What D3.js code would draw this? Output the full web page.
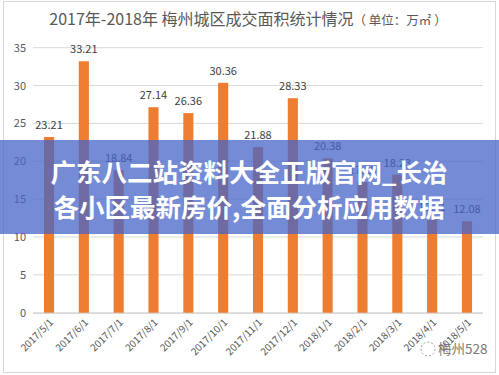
<!DOCTYPE html>
<html><head><meta charset="utf-8">
<script src="https://cdn.jsdelivr.net/npm/d3@7"></script>
<style>body{margin:0;background:#fff}svg{display:block}</style>
</head><body>
<script>
const categories = ["2017/5/1","2017/6/1","2017/7/1","2017/8/1","2017/9/1","2017/10/1","2017/11/1","2017/12/1","2018/1/1","2018/2/1","2018/3/1","2018/4/1","2018/5/1"];
const values = [23.21,33.21,18.84,27.14,26.36,30.36,21.88,28.33,20.38,17.26,18.23,12.31,12.08];
const yTicks = [0,5,10,15,20,25,30,35];
const titleMain = "2017年-2018年 梅州城区成交面积统计情况";
const titleUnit = "（ 单位：万㎡ ）";
const bannerLines = ["广东八二站资料大全正版官网_长治","各小区最新房价,全面分析应用数据"];

const W = 499, H = 375;
const svg = d3.select("body").append("svg").attr("width", W).attr("height", H);
const font = "'Noto Sans CJK SC','Noto Sans',sans-serif";

svg.append("rect").attr("x",3.5).attr("y",1.5).attr("width",492).attr("height",371)
  .attr("fill","#fff").attr("stroke","#d6d6d6");

const x = d3.scaleBand().domain(categories).range([31.6, 484.4]).paddingInner(0.71).paddingOuter(0.355);
const y = d3.scaleLinear().domain([0,35]).range([312.7, 47.7]);

// gridlines
svg.append("g").selectAll("line").data(yTicks).join("line")
  .attr("x1",33).attr("x2",483).attr("y1",d=>y(d)).attr("y2",d=>y(d))
  .attr("stroke","#d9d9d9").attr("stroke-width",1);

// y axis labels
const yAxis = d3.axisLeft(y).tickValues(yTicks).tickSize(0).tickPadding(0);
const yg = svg.append("g").attr("transform","translate(26,0)").call(yAxis);
yg.select(".domain").remove();
yg.selectAll("text").attr("font-family",font).attr("font-size",11).attr("fill","#595959");

// bars
svg.append("g").selectAll("rect").data(values).join("rect")
  .attr("x",(d,i)=>x(categories[i])).attr("width",x.bandwidth())
  .attr("y",d=>y(d)).attr("height",d=>y(0)-y(d)).attr("fill","#ED7D31");

// data labels
svg.append("g").selectAll("text").data(values).join("text")
  .attr("x",(d,i)=>x(categories[i])+x.bandwidth()/2).attr("y",d=>y(d)-8)
  .attr("text-anchor","middle").attr("font-family",font).attr("font-size",11)
  .attr("fill","#404040").text(d=>d.toFixed(2));

// x axis labels
const xAxis = d3.axisBottom(x).tickSize(0).tickPadding(0);
const xg = svg.append("g").attr("transform","translate(0,313)").call(xAxis);
xg.select(".domain").attr("stroke","#d9d9d9").attr("d","M33,0.5H483");
xg.selectAll("text").attr("font-family",font).attr("font-size",10).attr("fill","#595959")
  .attr("text-anchor","end").attr("dy",0)
  .attr("transform","translate(5,10) rotate(-45)");

// title
const t = svg.append("text").attr("x",248).attr("y",25).attr("text-anchor","middle")
  .attr("font-family",font).attr("fill","#595959");
t.append("tspan").attr("font-size",16).text(titleMain);
t.append("tspan").attr("font-size",12.5).text(titleUnit);

// watermark
const wm = svg.append("g").attr("transform","translate(428,354)");
wm.append("circle").attr("cx",0).attr("cy",-5).attr("r",7).attr("fill","none")
  .attr("stroke","#9a9a9a").attr("stroke-dasharray","2,2");
wm.append("text").attr("x",10).attr("y",0).attr("font-family",font).attr("font-size",13.5)
  .attr("fill","#7a7a7a").text("梅州528");

// banner overlay
svg.append("rect").attr("x",0).attr("y",140).attr("width",W).attr("height",94)
  .attr("fill","rgba(70,100,200,0.75)");
svg.append("g").selectAll("text").data(bannerLines).join("text")
  .attr("x",249).attr("y",(d,i)=>182+i*35).attr("text-anchor","middle")
  .attr("font-family",font).attr("font-weight","bold").attr("font-size",25.5)
  .attr("fill","#fff").text(d=>d);
</script>
</body></html>
